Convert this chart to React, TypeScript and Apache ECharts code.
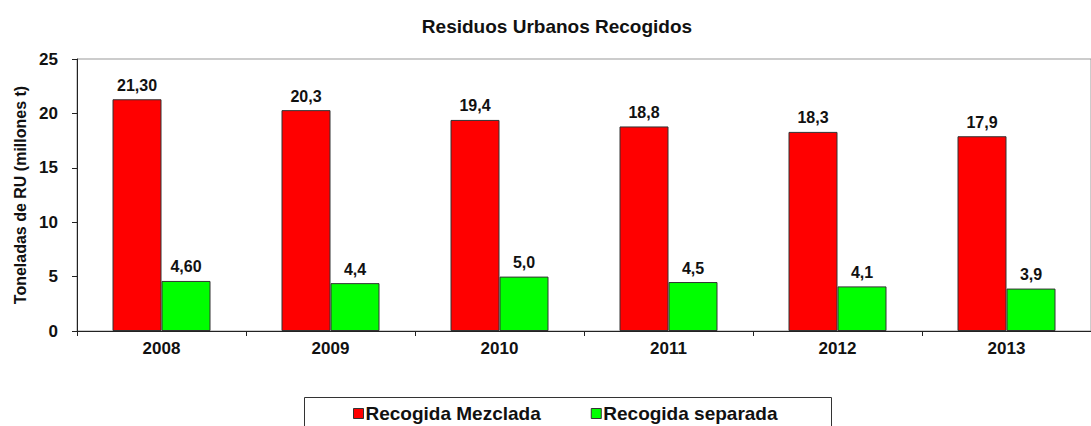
import React, { useEffect, useRef } from "react";
import * as echarts from "echarts";

const categories = ["2008", "2009", "2010", "2011", "2012", "2013"];
const mezclada = [21.3, 20.3, 19.4, 18.8, 18.3, 17.9];
const separada = [4.6, 4.4, 5.0, 4.5, 4.1, 3.9];
const mezcladaLabels = ["21,30", "20,3", "19,4", "18,8", "18,3", "17,9"];
const separadaLabels = ["4,60", "4,4", "5,0", "4,5", "4,1", "3,9"];
const yTicks = [0, 5, 10, 15, 20, 25];

const FONT = "Liberation Sans, Arial, sans-serif";

export default function App() {
  const ref = useRef<HTMLDivElement>(null);
  useEffect(() => {
    if (!ref.current) return;
    const chart = echarts.init(ref.current, null, { renderer: "svg" });
    const labelStyle = {
      show: true,
      position: "top",
      distance: 6,
      fontFamily: FONT,
      fontWeight: "bold",
      fontSize: 16,
      color: "#111",
    };
    chart.setOption({
      animation: false,
      backgroundColor: "#fff",
      title: {
        text: "Residuos Urbanos Recogidos",
        left: 552,
        textAlign: "center",
        top: 12,
        textStyle: { fontFamily: FONT, fontWeight: "bold", fontSize: 19, color: "#111" },
      },
      grid: {
        left: 77,
        top: 59,
        right: -10,
        bottom: 95,
        show: true,
        borderColor: "#999",
        borderWidth: 1,
        backgroundColor: "transparent",
      },
      legend: {
        left: 353,
        top: 404,
        padding: 0,
        itemWidth: 10,
        itemHeight: 10,
        itemGap: 50,
        icon: "rect",
        itemStyle: { borderColor: "#333", borderWidth: 1 },
        textStyle: { fontFamily: FONT, fontWeight: "bold", fontSize: 19, color: "#111", padding: [0, 0, 0, -3] },
        data: ["Recogida Mezclada", "Recogida separada"],
      },
      graphic: [
        {
          type: "rect",
          shape: { x: 304.5, y: 397.5, width: 527, height: 40 },
          style: { fill: "none", stroke: "#333", lineWidth: 1 },
          silent: true,
        },
      ],
      xAxis: {
        type: "category",
        data: categories,
        axisLine: { show: true, lineStyle: { color: "#222", width: 1 } },
        axisTick: { show: true, length: 5, lineStyle: { color: "#222" } },
        axisLabel: { margin: 9, fontFamily: FONT, fontWeight: "bold", fontSize: 17, color: "#111" },
      },
      yAxis: {
        type: "value",
        min: yTicks[0],
        max: yTicks[yTicks.length - 1],
        interval: 5,
        name: "Toneladas de RU (millones t)",
        nameLocation: "middle",
        nameGap: 47,
        nameTextStyle: { fontFamily: FONT, fontWeight: "bold", fontSize: 16, color: "#111" },
        axisLine: { show: true, lineStyle: { color: "#222", width: 1 } },
        axisTick: { show: true, length: 5, lineStyle: { color: "#222" } },
        splitLine: { show: false },
        axisLabel: { margin: 19, fontFamily: FONT, fontWeight: "bold", fontSize: 17, color: "#111" },
      },
      series: [
        {
          name: "Recogida Mezclada",
          type: "bar",
          data: mezclada,
          barWidth: 49,
          barGap: "0%",
          itemStyle: { color: "#ff0000", borderColor: "#333", borderWidth: 1 },
          label: { ...labelStyle, formatter: (p: any) => mezcladaLabels[p.dataIndex] },
        },
        {
          name: "Recogida separada",
          type: "bar",
          data: separada,
          barWidth: 49,
          barGap: "0%",
          itemStyle: { color: "#00ff00", borderColor: "#333", borderWidth: 1 },
          label: { ...labelStyle, formatter: (p: any) => separadaLabels[p.dataIndex] },
        },
      ],
    });
    return () => chart.dispose();
  }, []);
  return (
    <div
      ref={ref}
      style={{ position: "fixed", left: 0, top: 0, width: 1091, height: 426 }}
    />
  );
}
